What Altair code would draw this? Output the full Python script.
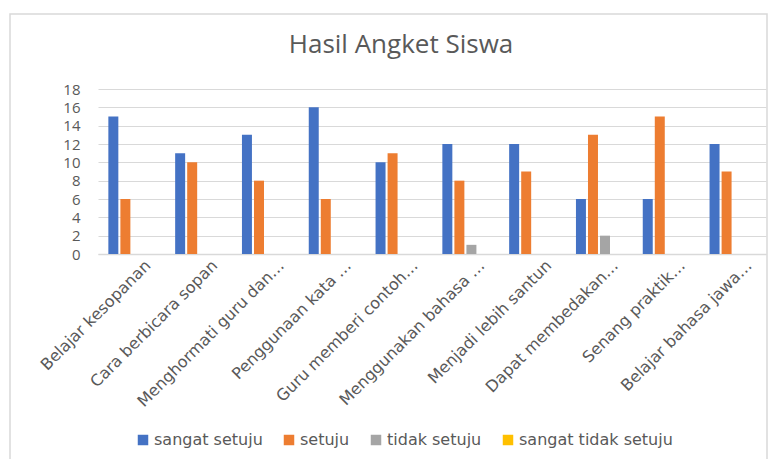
import altair as alt
import pandas as pd

categories = [
    "Belajar kesopanan",
    "Cara berbicara sopan",
    "Menghormati guru dan…",
    "Penggunaan kata …",
    "Guru memberi contoh…",
    "Menggunakan bahasa …",
    "Menjadi lebih santun",
    "Dapat membedakan…",
    "Senang praktik…",
    "Belajar bahasa jawa…",
]
series = ["sangat setuju", "setuju", "tidak setuju", "sangat tidak setuju"]
sangat_setuju = [15, 11, 13, 16, 10, 12, 12, 6, 6, 12]
setuju = [6, 10, 8, 6, 11, 8, 9, 13, 15, 9]
tidak_setuju = [0, 0, 0, 0, 0, 1, 0, 2, 0, 0]
sangat_tidak_setuju = [0, 0, 0, 0, 0, 0, 0, 0, 0, 0]
colors = ["#4472C4", "#ED7D31", "#A5A5A5", "#FFC000"]
y_ticks = [0, 2, 4, 6, 8, 10, 12, 14, 16, 18]

rows = []
for s, vals in zip(series, [sangat_setuju, setuju, tidak_setuju, sangat_tidak_setuju]):
    for c, v in zip(categories, vals):
        rows.append({"kategori": c, "seri": s, "nilai": v})
df = pd.DataFrame(rows)

FONT = "Open Sans"
WIDE = "DejaVu Sans"
GREY = "#595959"

bars = alt.Chart(df).mark_bar().encode(
    x=alt.X("kategori:N", sort=categories, title=None,
            scale=alt.Scale(paddingInner=0.31, paddingOuter=0.155),
            axis=alt.Axis(labelAngle=-45, labelAlign="right", labelBaseline="top",
                          labelOffset=11, labelPadding=3, labelFontSize=16,
                          labelFont=WIDE, labelColor=GREY, ticks=False,
                          domainColor="#d9d9d9", domainWidth=1.5, grid=False,
                          labelLimit=300)),
    xOffset=alt.XOffset("seri:N", sort=series, scale=alt.Scale(paddingInner=0.17, paddingOuter=0)),
    y=alt.Y("nilai:Q", title=None, scale=alt.Scale(domain=[0, 18], nice=False),
            axis=alt.Axis(values=y_ticks, labelFontSize=15, labelFont=FONT,
                          labelColor=GREY, ticks=False, domain=False,
                          gridColor="#d9d9d9", gridWidth=1, labelPadding=18)),
    color=alt.Color("seri:N", sort=series,
                    scale=alt.Scale(domain=series, range=colors),
                    legend=alt.Legend(title=None, orient="none", legendX=37, legendY=343,
                                      direction="horizontal", columns=4, columnPadding=18,
                                      symbolType="square", symbolSize=110,
                                      symbolStrokeWidth=0, labelFontSize=16,
                                      labelFont=WIDE, labelColor=GREY, labelOffset=3)),
)

frame = alt.Chart(pd.DataFrame({"a": [0]})).mark_rect(
    fill=None, stroke="#d9d9d9", strokeWidth=1.5
).encode(
    x=alt.value(-88), x2=alt.value(669), y=alt.value(-75), y2=alt.value(400)
)

chart = alt.layer(frame, bars).properties(
    width=668,
    height=165,
    title=alt.TitleParams("Hasil Angket Siswa", fontSize=26, font=FONT,
                          fontWeight="normal", color=GREY, dx=-31, offset=-45),
    autosize=alt.AutoSizeParams(type="none"),
    padding={"left": 90, "top": 81, "right": 2, "bottom": 205},
).configure_view(stroke=None)

chart.save("out.html", embed_options={"renderer": "svg", "actions": False})
